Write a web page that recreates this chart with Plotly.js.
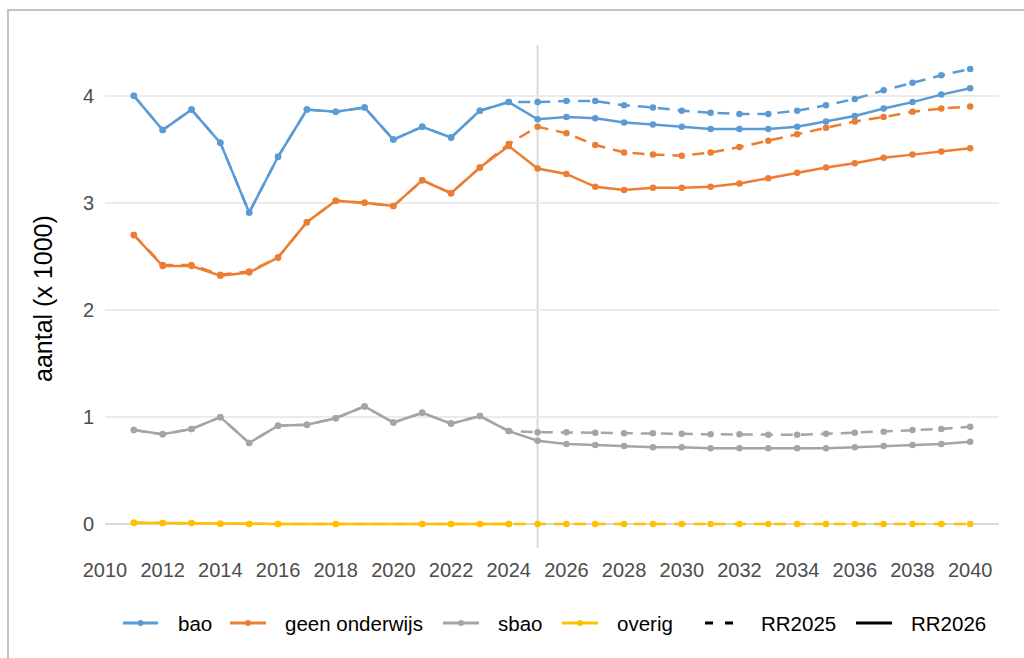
<!DOCTYPE html>
<html>
<head>
<meta charset="utf-8">
<script src="https://cdn.plot.ly/plotly-3.0.1.min.js"></script>
<style>
html,body{margin:0;padding:0;background:#fff;}
#chart{width:1024px;height:658px;}
</style>
</head>
<body>
<div id="chart"></div>
<script>
// ---- data ----
const years = [2011,2012,2013,2014,2015,2016,2017,2018,2019,2020,2021,2022,2023,2024,
               2025,2026,2027,2028,2029,2030,2031,2032,2033,2034,2035,2036,2037,2038,2039,2040];

// RR2026 (solid)
const bao_RR2026 = [4.00,3.68,3.87,3.56,2.91,3.43,3.87,3.85,3.89,3.59,3.71,3.61,3.86,3.94,
                    3.78,3.80,3.79,3.75,3.73,3.71,3.69,3.69,3.69,3.71,3.76,3.81,3.88,3.94,4.01,4.07];
const geen_RR2026 = [2.70,2.41,2.41,2.32,2.35,2.49,2.82,3.02,3.00,2.97,3.21,3.09,3.33,3.53,
                     3.32,3.27,3.15,3.12,3.14,3.14,3.15,3.18,3.23,3.28,3.33,3.37,3.42,3.45,3.48,3.51];
const sbao_RR2026 = [0.88,0.84,0.89,1.00,0.76,0.92,0.93,0.99,1.10,0.95,1.04,0.94,1.01,0.87,
                     0.78,0.75,0.74,0.73,0.72,0.72,0.71,0.71,0.71,0.71,0.71,0.72,0.73,0.74,0.75,0.77];
const overig_RR2026 = [0.015,0.012,0.012,0.006,0.004,0.004,null,0.004,null,null,0.004,0.004,0.004,0.004,
                       null,null,null,null,null,null,null,null,null,null,null,null,null,null,null,null];

// RR2025 (dashed)
const bao_RR2025 = [4.00,3.68,3.87,3.56,2.91,3.43,3.87,3.85,3.89,3.59,3.71,3.61,3.86,3.94,
                    3.94,3.95,3.95,3.91,3.89,3.86,3.84,3.83,3.83,3.86,3.91,3.97,4.05,4.12,4.19,4.25];
const geen_RR2025 = [2.70,2.42,2.42,2.33,2.36,2.49,2.82,3.02,3.00,2.97,3.21,3.09,3.33,3.55,
                     3.71,3.65,3.54,3.47,3.45,3.44,3.47,3.52,3.58,3.64,3.70,3.76,3.80,3.85,3.88,3.90];
const sbao_RR2025 = [0.88,0.84,0.89,1.00,0.76,0.92,0.93,0.99,1.10,0.95,1.04,0.94,1.01,0.87,
                     0.86,0.86,0.855,0.85,0.85,0.845,0.84,0.84,0.835,0.835,0.845,0.855,0.865,0.88,0.89,0.91];
const overig_RR2025 = [0.015,0.012,0.012,0.006,0.004,0.004,null,0.004,null,null,0.004,0.004,0.004,0.004,
                       0.004,0.004,0.004,0.004,0.004,0.004,0.004,0.004,0.004,0.004,0.004,0.004,0.004,0.004,0.004,0.004];

const seriesNames = ["bao","geen onderwijs","sbao","overig"];
const scenarioNames = ["RR2025","RR2026"];
const xTicks = [2010,2012,2014,2016,2018,2020,2022,2024,2026,2028,2030,2032,2034,2036,2038,2040];
const yTicks = [0,1,2,3,4];
const yTitle = "aantal (x 1000)";

// ---- styling ----
const colors = ["#5B9BD5","#ED7D31","#A5A5A5","#FFC000"];
const FONT = "Liberation Sans, Arial, Helvetica, sans-serif";
const DASH = "12px,8px";

const rr2025 = [bao_RR2025, geen_RR2025, sbao_RR2025, overig_RR2025];
const rr2026 = [bao_RR2026, geen_RR2026, sbao_RR2026, overig_RR2026];

const traces = [];
for (let i = 0; i < 4; i++) {
  traces.push({
    x: years, y: rr2025[i], type: "scatter", mode: "lines+markers",
    name: seriesNames[i] + " " + scenarioNames[0], showlegend: false, connectgaps: true,
    line: {color: colors[i], width: 2.5, dash: DASH},
    marker: {color: colors[i], size: 6.5}, hoverinfo: "x+y+name"
  });
}
for (let i = 0; i < 4; i++) {
  traces.push({
    x: years, y: rr2026[i], type: "scatter", mode: "lines+markers",
    name: seriesNames[i] + " " + scenarioNames[1], showlegend: false, connectgaps: true,
    line: {color: colors[i], width: 2.5},
    marker: {color: colors[i], size: 6.5}, hoverinfo: "x+y+name"
  });
}

// plot area in pixels
const L = 105, R = 999, T = 45, B = 548;
const px = v => (v - L) / (R - L);
const py = v => (B - v) / (B - T);

const shapes = [
  {type: "line", xref: "x", yref: "paper", x0: 2025, x1: 2025, y0: 0, y1: 1,
   line: {color: "#d9d9d9", width: 2}, layer: "below"},
  {type: "path", xref: "paper", yref: "paper",
   path: `M ${px(8)} ${py(700)} L ${px(8)} ${py(10)} L ${px(1100)} ${py(10)}`,
   line: {color: "#c4c4c4", width: 2}}
];
const annotations = [
  {xref: "paper", yref: "paper", x: px(43), y: py(298), text: yTitle, textangle: -90,
   showarrow: false, font: {family: FONT, size: 25, color: "#000"}, xanchor: "center", yanchor: "middle"}
];

// custom legend
const legY = 623;
const legItems = [
  {x0: 123, x1: 158, tx: 177, text: seriesNames[0], color: colors[0], marker: true},
  {x0: 230, x1: 266, tx: 284, text: seriesNames[1], color: colors[1], marker: true},
  {x0: 443, x1: 479, tx: 497, text: seriesNames[2], color: colors[2], marker: true},
  {x0: 562, x1: 598, tx: 616, text: seriesNames[3], color: colors[3], marker: true},
  {x0: 705, x1: 741, tx: 760, text: scenarioNames[0], color: "#000", marker: false, dash: "8px,12px"},
  {x0: 856, x1: 892, tx: 910, text: scenarioNames[1], color: "#000", marker: false}
];
legItems.forEach(it => {
  shapes.push({type: "line", xref: "paper", yref: "paper",
    x0: px(it.x0), x1: px(it.x1), y0: py(legY), y1: py(legY),
    line: {color: it.color, width: 3, dash: it.dash || "solid"}});
  if (it.marker) {
    const cx = (it.x0 + it.x1) / 2;
    shapes.push({type: "circle", xref: "paper", yref: "paper",
      x0: px(cx - 3), x1: px(cx + 3), y0: py(legY + 3), y1: py(legY - 3),
      fillcolor: it.color, line: {width: 0}});
  }
  annotations.push({xref: "paper", yref: "paper", x: px(it.tx), y: py(legY), text: it.text,
    showarrow: false, xanchor: "left", yanchor: "middle", borderpad: 0,
    font: {family: FONT, size: 20.5, color: "#000"}});
});

const layout = {
  width: 1024, height: 658,
  margin: {l: L, r: 1024 - R, t: T, b: 658 - B, pad: 0},
  paper_bgcolor: "#fff", plot_bgcolor: "#fff",
  font: {family: FONT, size: 20, color: "#4d4d4d"},
  showlegend: false,
  xaxis: {range: [2010, 2041], tickvals: xTicks, ticktext: xTicks.map(String),
          showgrid: false, zeroline: false, showline: false, ticks: "",
          ticklabelstandoff: 8, tickfont: {family: FONT, size: 20, color: "#4d4d4d"}},
  yaxis: {range: [-0.221, 4.473], tickvals: yTicks, ticktext: yTicks.map(String),
          showgrid: true, gridcolor: "#ebebeb", gridwidth: 2,
          zeroline: true, zerolinecolor: "#d9d9d9", zerolinewidth: 2,
          showline: false, ticks: "", ticklabelstandoff: 10,
          tickfont: {family: FONT, size: 20, color: "#4d4d4d"}},
  shapes: shapes,
  annotations: annotations
};

Plotly.newPlot("chart", traces, layout, {displayModeBar: false, staticPlot: true});
</script>
</body>
</html>
